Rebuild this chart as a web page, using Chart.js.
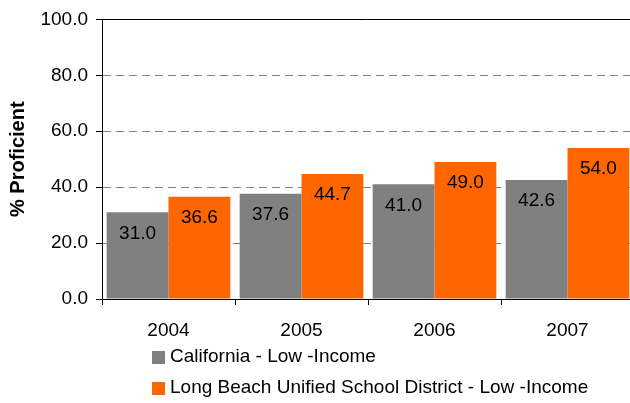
<!DOCTYPE html>
<html>
<head>
<meta charset="utf-8">
<script src="https://cdn.jsdelivr.net/npm/chart.js@4"></script>
<style>
    html, body { margin: 0; padding: 0; background: #fff; }
    #wrap { width: 630px; height: 403px; }
</style>
</head>
<body>
<div id="wrap"><canvas id="chart" width="630" height="403"></canvas></div>
<script>
// 数据
const years = ['2004', '2005', '2006', '2007'];
const californiaLowIncome = [31.0, 37.6, 41.0, 42.6];
const longBeachLowIncome = [36.6, 44.7, 49.0, 54.0];
const yTickValues = [0, 20, 40, 60, 80, 100];
const seriesNames = ['California - Low -Income', 'Long Beach Unified School District - Low -Income'];
const seriesColors = ['#808080', '#FF6600'];

const FONT = '"Liberation Sans", Arial, sans-serif';

// 原图的绘图区右侧被裁掉一点，这里把图区往右延伸
const widenArea = {
    id: 'widenArea',
    afterLayout(chart) {
        const x = chart.scales.x;
        x.right = 634;
        x.width = x.right - x.left;
        x.configure();
        chart.chartArea.right = 634;
        chart.chartArea.width = chart.chartArea.right - chart.chartArea.left;
    }
};

// 柱内数值标签
const valueLabels = {
    id: 'valueLabels',
    afterDatasetsDraw(chart) {
        const ctx = chart.ctx;
        ctx.save();
        ctx.font = '19px ' + FONT;
        ctx.fillStyle = '#000';
        ctx.textAlign = 'center';
        ctx.textBaseline = 'middle';
        chart.data.datasets.forEach((ds, i) => {
            chart.getDatasetMeta(i).data.forEach((bar, j) => {
                ctx.fillText(ds.data[j].toFixed(1), bar.x, bar.y + 21);
            });
        });
        ctx.restore();
    }
};

// 顶部实线 + 左下图例
const frameAndLegend = {
    id: 'frameAndLegend',
    afterDraw(chart) {
        const ctx = chart.ctx;
        const area = chart.chartArea;
        const yTop = chart.scales.y.getPixelForValue(100);
        ctx.save();
        ctx.strokeStyle = '#000';
        ctx.lineWidth = 1;
        ctx.beginPath();
        ctx.moveTo(area.left, Math.round(yTop) + 0.5);
        ctx.lineTo(area.right, Math.round(yTop) + 0.5);
        ctx.stroke();

        ctx.font = '19px ' + FONT;
        ctx.textAlign = 'left';
        ctx.textBaseline = 'middle';
        const rows = [357, 388];
        chart.data.datasets.forEach((ds, i) => {
            ctx.fillStyle = ds.backgroundColor;
            ctx.fillRect(152, rows[i] - 6, 13, 13);
            ctx.fillStyle = '#000';
            ctx.fillText(ds.label, 170, rows[i]);
        });
        ctx.restore();
    }
};

new Chart(document.getElementById('chart').getContext('2d'), {
    type: 'bar',
    data: {
        labels: years,
        datasets: [
            { label: seriesNames[0], data: californiaLowIncome, backgroundColor: seriesColors[0] },
            { label: seriesNames[1], data: longBeachLowIncome, backgroundColor: seriesColors[1] }
        ]
    },
    options: {
        responsive: false,
        animation: false,
        layout: { padding: { left: 0, top: 19, right: 0, bottom: 0 } },
        datasets: { bar: { categoryPercentage: 0.93, barPercentage: 1 } },
        plugins: { legend: { display: false }, tooltip: { enabled: false } },
        scales: {
            x: {
                afterFit(scale) { scale.height = 104; },
                grid: { offset: true, drawOnChartArea: false, tickLength: 6, color: '#000', tickColor: '#000' },
                border: { color: '#000', width: 1 },
                ticks: { color: '#000', padding: 14, font: { family: FONT, size: 19 } }
            },
            y: {
                min: 0,
                max: 100,
                afterFit(scale) { scale.width = 102; },
                afterBuildTicks(scale) { scale.ticks = yTickValues.map(v => ({ value: v })); },
                grid: {
                    color: c => (c.tick && c.tick.value === 100) ? 'rgba(0,0,0,0)' : '#808080',
                    tickColor: '#000',
                    tickLength: 6
                },
                border: { color: '#000', width: 1, dash: [8, 5] },
                ticks: {
                    color: '#000',
                    padding: 8,
                    font: { family: FONT, size: 19 },
                    callback: v => v.toFixed(1)
                },
                title: {
                    display: true,
                    text: '% Proficient',
                    color: '#000',
                    padding: { top: 6, bottom: 0 },
                    font: { family: FONT, size: 20, weight: 'bold' }
                }
            }
        }
    },
    plugins: [widenArea, valueLabels, frameAndLegend]
});
</script>
</body>
</html>
